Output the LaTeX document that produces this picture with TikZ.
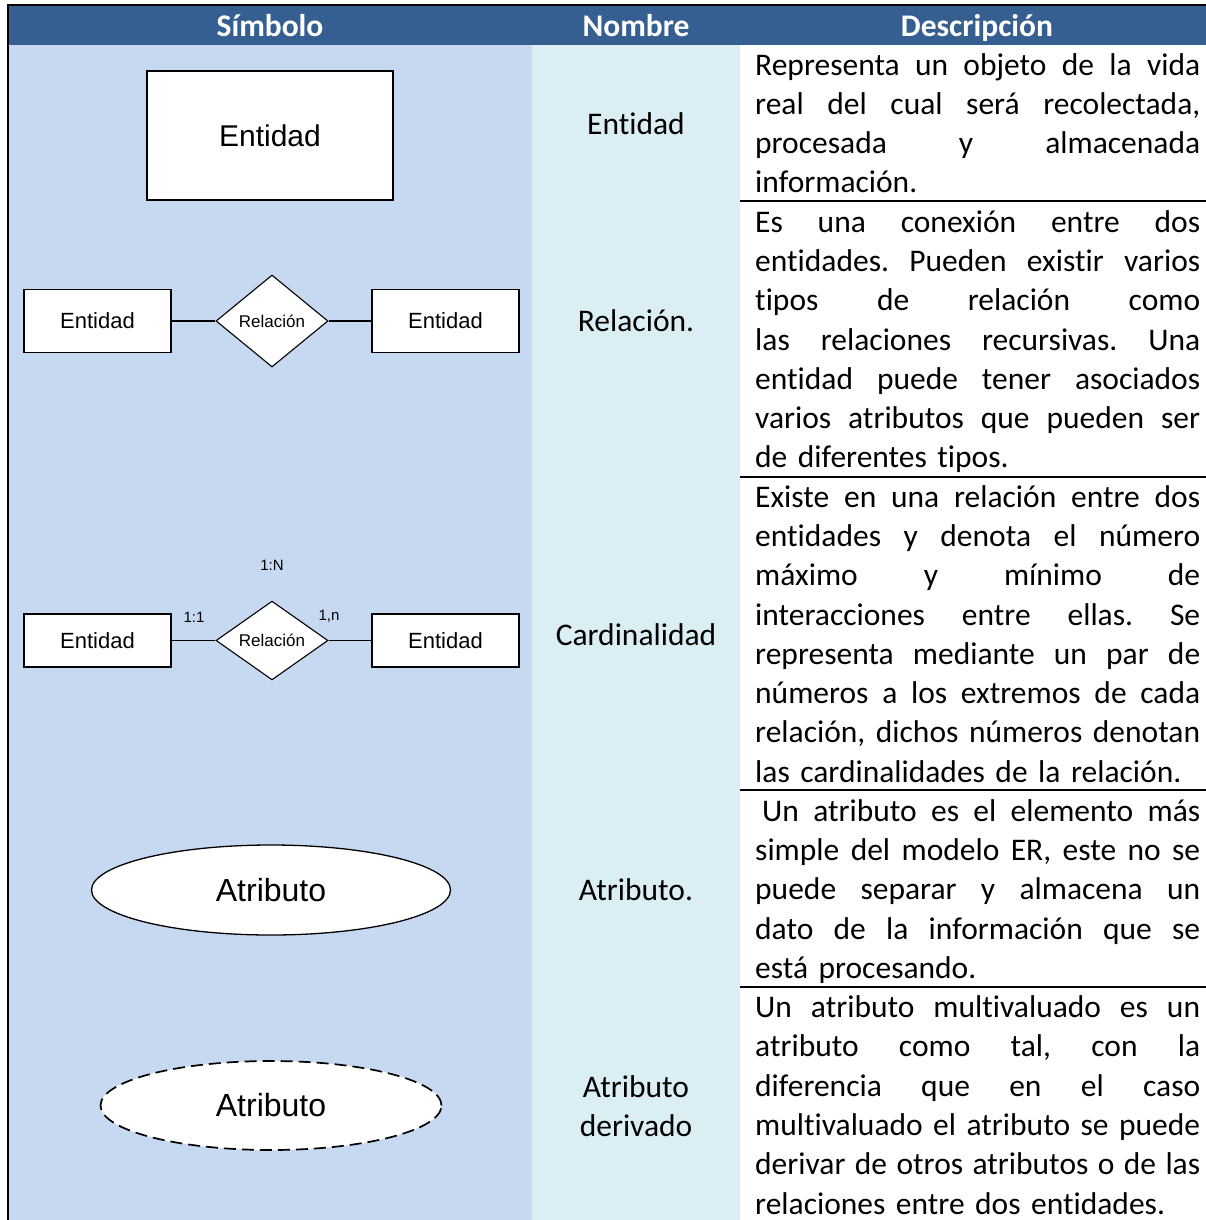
\documentclass[tikz,border=0pt]{standalone}
\usepackage{fontspec}
\setmainfont[Ligatures=TeX, RawFeature={-liga;-clig;-calt;-dlig}]{Carlito}
\newfontfamily\arialfont{Liberation Sans}
\usetikzlibrary{shapes.geometric}
\definecolor{cabecera}{HTML}{365F91}
\definecolor{colsimbolo}{HTML}{C6D9F1}
\definecolor{colnombre}{HTML}{DBEEF4}
\frenchspacing
\def\jl#1{\strut\hbox to 445pt{\spaceskip=0.23em plus 1fil\relax #1}\\}
\def\ult#1{\strut#1}

\begin{document}
\begin{tikzpicture}[x=1pt,y=-1pt,
	entidad/.style={draw, fill=white, line width=1.1pt, inner sep=0pt, font=\arialfont\fontsize{22}{26}\selectfont},
	relacion/.style={draw, fill=white, diamond, line width=1.1pt, inner sep=0pt, minimum width=112pt, font=\arialfont\fontsize{17}{20}\selectfont},
	atributo/.style={draw, fill=white, ellipse, line width=1.3pt, inner sep=0pt, font=\arialfont\fontsize{32}{36}\selectfont},
	cardtxt/.style={font=\arialfont\fontsize{15}{18}\selectfont},
	nombre/.style={font=\fontsize{31.5}{39.27}\selectfont, align=center},
	descr/.style={anchor=north west, inner sep=0pt, text width=445pt, align=left, font=\fontsize{31.5}{39.27}\selectfont},
	titulo/.style={anchor=base, text=white, font=\bfseries\fontsize{31.5}{36}\selectfont}]
			%%%%% START %%%%%
			\useasboundingbox (0, 0) rectangle (1206, 1220);
			
			% fondos de columnas
			\fill[colsimbolo] (8, 45) rectangle (532, 1220);
			\fill[colnombre] (532, 45) rectangle (740, 1220);
			\fill[cabecera] (8, 5) rectangle (1206, 45);
			
			\draw[line width=2.5pt] (7, 5) -- (1206, 5);
			\draw[line width=2.5pt] (8, 4) -- (8, 1220);
			\draw[line width=2pt] (740, 201) -- (1206, 201);
			\draw[line width=2pt] (740, 477) -- (1206, 477);
			\draw[line width=2pt] (740, 790) -- (1206, 790);
			\draw[line width=2pt] (740, 987) -- (1206, 987);
			
			\node[titulo] (tSimbolo) at (270, 37) {Símbolo};
			\node[titulo] (tNombre) at (636, 37) {Nombre};
			\node[titulo] (tDescr) at (977, 37) {Descripción};
			
			% simbolos
			\node[entidad, minimum width=246pt, minimum height=129pt, font=\arialfont\fontsize{30}{34}\selectfont] (ent1) at (270, 135.5) {Entidad};
			
			\node[entidad, minimum width=147pt, minimum height=63pt] (entA) at (97.5, 321) {Entidad};
			\node[relacion, minimum height=92pt] (relA) at (272, 321) {Relación};
			\node[entidad, minimum width=147pt, minimum height=63pt] (entB) at (445.5, 321) {Entidad};
			\draw[line width=1.1pt] (entA) -- (relA);
			\draw[line width=1.1pt] (relA) -- (entB);
			
			\node[entidad, minimum width=147pt, minimum height=53pt] (entC) at (97.5, 640.5) {Entidad};
			\node[relacion, minimum height=77pt] (relB) at (272, 640.5) {Relación};
			\node[entidad, minimum width=147pt, minimum height=53pt] (entD) at (445.5, 640.5) {Entidad};
			\draw[line width=1.1pt] (entC) -- (relB);
			\draw[line width=1.1pt] (relB) -- (entD);
			\node[cardtxt] (cardN) at (272, 565) {1:N};
			\node[cardtxt] (card11) at (194, 617) {1:1};
			\node[cardtxt] (card1n) at (329, 616) {1,n};
			
			\node[atributo, minimum width=359pt, minimum height=90pt] (atr) at (271, 890) {Atributo};
			\node[atributo, line width=1.7pt, dash pattern=on 12pt off 6pt, minimum width=341pt, minimum height=89pt] (atrDer) at (271, 1105.5) {Atributo};
			
			% nombres
			\node[nombre] (nom1) at (636, 124) {Entidad};
			\node[nombre] (nom2) at (636, 321) {Relación.};
			\node[nombre] (nom3) at (636, 635) {Cardinalidad};
			\node[nombre] (nom4) at (636, 890) {Atributo.};
			\node[nombre] (nom5) at (636, 1106) {Atributo\\derivado};
			
			% descripciones
			\node[descr] (desc1) at (755, 47.5) {\jl{Representa un objeto de la vida}\jl{real del cual será recolectada,}\jl{procesada y almacenada}\ult{información.}};
			\node[descr] (desc2) at (755, 204.6) {\jl{Es una conexión entre dos}\jl{entidades. Pueden existir varios}\jl{tipos de relación como}\jl{las relaciones recursivas. Una}\jl{entidad puede tener asociados}\jl{varios atributos que pueden ser}\ult{de diferentes tipos.}};
			\node[descr] (desc3) at (755, 479.5) {\jl{Existe en una relación entre dos}\jl{entidades y denota el número}\jl{máximo y mínimo de}\jl{interacciones entre ellas. Se}\jl{representa mediante un par de}\jl{números a los extremos de cada}\jl{relación, dichos números denotan}\ult{las cardinalidades de la relación.}};
			\node[descr] (desc4) at (755, 793.6) {\jl{\hspace*{7pt}Un atributo es el elemento más}\jl{simple del modelo ER, este no se}\jl{puede separar y almacena un}\jl{dato de la información que se}\ult{está procesando.}};
			\node[descr] (desc5) at (755, 990) {\jl{Un atributo multivaluado es un}\jl{atributo como tal, con la}\jl{diferencia que en el caso}\jl{multivaluado el atributo se puede}\jl{derivar de otros atributos o de las}\ult{relaciones entre dos entidades.}};
			%%%%% END %%%%%
\end{tikzpicture}
\end{document}
